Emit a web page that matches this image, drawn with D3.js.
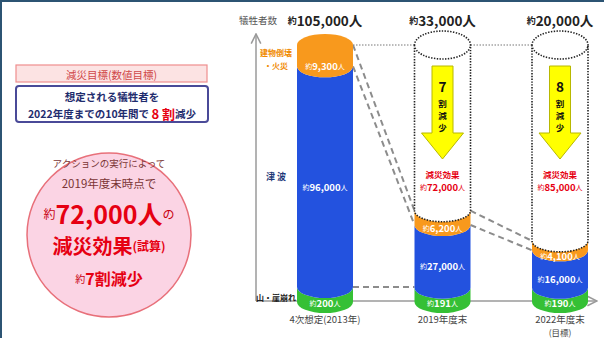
<!DOCTYPE html>
<html>
<head>
<meta charset="utf-8">
<script src="https://cdn.jsdelivr.net/npm/d3@7"></script>
<style>
  body { margin: 0; background: #fff; }
  svg { display: block; font-family: "Noto Sans CJK JP", "Noto Sans", sans-serif; }
</style>
</head>
<body>
<script>
// data
const categories = ["4次想定(2013年)", "2019年度末", "2022年度末"];
const subLabels = ["", "", "(目標)"];
const seriesNames = ["山・崖崩れ", "津 波", "建物倒壊・火災"];
const landslide = [200, 191, 190];
const tsunami = [96000, 27000, 16000];
const building = [9300, 6200, 4100];
const totals = [105000, 33000, 20000];
const reduction = [null, 72000, 85000];
const reductionRate = [null, 7, 8];

const colors = ["#35c035", "#2352df", "#f8991d"];

const W = 604, H = 338;
const svg = d3.select("body").append("svg").attr("width", W).attr("height", H);
const fmt = d3.format(",");

// frame
svg.append("rect").attr("x", 0).attr("y", 0).attr("width", W).attr("height", 2).attr("fill", "#2c5473");
svg.append("rect").attr("x", 0).attr("y", 0).attr("width", 2).attr("height", H).attr("fill", "#2c5473");

// ---------- left panel ----------
svg.append("rect").attr("x", 16).attr("y", 65).attr("width", 191).attr("height", 17)
  .attr("fill", "#fce3e3").attr("stroke", "#ee8e8e").attr("stroke-width", 1.2);
svg.append("text").attr("x", 111.5).attr("y", 74).attr("text-anchor", "middle")
  .attr("dominant-baseline", "central").attr("font-size", 10.5).attr("fill", "#d04848")
  .text("減災目標(数値目標)");

svg.append("rect").attr("x", 16).attr("y", 86).attr("width", 192).attr("height", 36).attr("rx", 3)
  .attr("fill", "#fff").attr("stroke", "#4a4a98").attr("stroke-width", 2);
svg.append("text").attr("x", 112).attr("y", 96).attr("text-anchor", "middle")
  .attr("dominant-baseline", "central").attr("font-size", 10.5).attr("font-weight", "bold")
  .attr("fill", "#1f2d6e").text("想定される犠牲者を");
const goal = svg.append("text").attr("x", 112).attr("y", 113).attr("text-anchor", "middle")
  .attr("dominant-baseline", "central").attr("font-weight", "bold").attr("fill", "#1f2d6e");
goal.append("tspan").attr("font-size", 10.5).text("2022年度までの10年間で ");
goal.append("tspan").attr("font-size", 13).attr("fill", "#e60012").text("8 割");
goal.append("tspan").attr("font-size", 10.5).text("減少");

svg.append("circle").attr("cx", 109).attr("cy", 235).attr("r", 82)
  .attr("fill", "#fbd4e4").attr("stroke", "#e8707a").attr("stroke-width", 1.5);
const circText = (y, parts) => {
  const t = svg.append("text").attr("x", 109).attr("y", y).attr("text-anchor", "middle")
    .attr("dominant-baseline", "central");
  parts.forEach(p => t.append("tspan").attr("font-size", p[1]).attr("font-weight", p[2] || "normal")
    .attr("fill", p[3] || "#e60012").text(p[0]));
};
circText(163, [["アクションの実行によって", 9.5, "normal", "#7a3434"]]);
circText(183, [["2019年度末時点で", 11.5, "normal", "#7a3434"]]);
circText(213, [["約", 12, "normal", "#c80010"], ["72,000人", 25, "bold"], ["の", 12, "normal", "#c80010"]]);
circText(245, [["減災効果", 20, "bold"], ["(試算)", 12, "bold"]]);
circText(278, [["約", 10, "normal", "#c80010"], ["7割減少", 16, "bold"]]);

// ---------- chart ----------
const x = d3.scalePoint().domain(categories).range([325, 560]);
const y = d3.scaleLinear().domain([0, 200, 105500]).range([302, 287, 45]);
const rx = 28, ry = 11;

const stacks = categories.map((c, i) => {
  const vals = [landslide[i], tsunami[i], building[i]];
  let lo = 0;
  return vals.map((v, k) => { const s = { cat: c, i, k, v, lo, hi: lo + v }; lo += v; return s; });
});
const topVal = stacks[0][2].hi;

// axes
const axisColor = "#9a9a9a";
const defs = svg.append("defs");
defs.append("marker").attr("id", "arr").attr("viewBox", "0 0 10 10").attr("refX", 9).attr("refY", 5)
  .attr("markerWidth", 8).attr("markerHeight", 8).attr("orient", "auto")
  .append("path").attr("d", "M1,1 L9,5 L1,9").attr("fill", "none").attr("stroke", axisColor).attr("stroke-width", 1.3);
svg.append("line").attr("x1", 256).attr("x2", 256).attr("y1", 301).attr("y2", 34)
  .attr("stroke", axisColor).attr("stroke-width", 1.5).attr("marker-end", "url(#arr)");
svg.append("line").attr("x1", 256).attr("x2", 597).attr("y1", 301).attr("y2", 301)
  .attr("stroke", axisColor).attr("stroke-width", 1.5).attr("marker-end", "url(#arr)");
svg.append("text").attr("x", 258).attr("y", 20).attr("text-anchor", "middle").attr("dominant-baseline", "central")
  .attr("font-size", 9.5).attr("fill", "#555").text("犠牲者数");

// connectors
const dotted = svg.append("g").attr("stroke", "#777").attr("stroke-width", 1).attr("stroke-dasharray", "1.5,1.5");
for (let i = 0; i < 2; i++) {
  dotted.append("line").attr("x1", x(categories[i]) + rx).attr("x2", x(categories[i + 1]) - rx)
    .attr("y1", y(topVal)).attr("y2", y(topVal));
}
const dashed = svg.append("g").attr("stroke", "#8c8c8c").attr("stroke-width", 2).attr("stroke-dasharray", "6,4");
for (let i = 0; i < 2; i++) {
  [1, 2].forEach(k => {
    dashed.append("line")
      .attr("x1", x(categories[i]) + rx).attr("y1", y(stacks[i][k].hi))
      .attr("x2", x(categories[i + 1]) - rx).attr("y2", y(stacks[i + 1][k].hi));
  });
}
dashed.append("line").attr("x1", x(categories[0]) + rx).attr("x2", x(categories[1]) - rx)
  .attr("y1", y(stacks[0][0].hi)).attr("y2", y(stacks[0][0].hi));

// cylinders
const segPath = (cx, yt, yb, top) =>
  `M${cx - rx},${yt} L${cx - rx},${yb} A${rx},${ry} 0 0 0 ${cx + rx},${yb} L${cx + rx},${yt} ` +
  (top ? `A${rx},${ry} 0 0 0 ${cx - rx},${yt}` : `A${rx},${ry} 0 0 1 ${cx - rx},${yt}`) + "Z";

const bars = svg.append("g");
stacks.forEach(st => st.forEach(s => {
  bars.append("path")
    .attr("d", segPath(x(s.cat), y(s.hi), y(s.lo), s.k === 2 && s.i === 0))
    .attr("fill", colors[s.k]);
}));

// ghost (dotted) cylinders
stacks.slice(1).forEach(st => {
  const cx = x(st[0].cat), yt = y(topVal), yb = y(st[2].hi);
  svg.append("path")
    .attr("d", `M${cx - rx},${yt} A${rx},${ry + 3} 0 1 0 ${cx + rx},${yt} A${rx},${ry + 3} 0 1 0 ${cx - rx},${yt} ` +
      `M${cx - rx},${yt} L${cx - rx},${yb} A${rx},${ry} 0 0 0 ${cx + rx},${yb} L${cx + rx},${yt}`)
    .attr("fill", "none").attr("stroke", "#222").attr("stroke-width", 1.6).attr("stroke-dasharray", "1.4,1.4");
});

// labels in bars
const amount = (g, cx, cy, v, color, big, small, weight) => {
  const t = g.append("text").attr("x", cx).attr("y", cy).attr("text-anchor", "middle")
    .attr("dominant-baseline", "central").attr("fill", color);
  t.append("tspan").attr("font-size", small).text("約");
  t.append("tspan").attr("font-size", big).attr("font-weight", weight).text(fmt(v));
  t.append("tspan").attr("font-size", small).text("人");
};
const lab = svg.append("g");
stacks.forEach(st => st.forEach(s => {
  const yt = y(s.hi), yb = y(s.lo);
  amount(lab, x(s.cat), (yt + yb) / 2 + ry - (s.k === 0 ? 3 : 1), s.v, "#fff", 9.5, 7, "bold");
}));

// series names to the left of first bar
const sx = 276;
svg.append("text").attr("x", sx).attr("y", y(topVal) + 7).attr("text-anchor", "middle").attr("dominant-baseline", "central")
  .attr("font-size", 8).attr("font-weight", "bold").attr("fill", "#f08a00").text(seriesNames[2].slice(0, 4));
svg.append("text").attr("x", sx).attr("y", y(topVal) + 20).attr("text-anchor", "middle").attr("dominant-baseline", "central")
  .attr("font-size", 8).attr("font-weight", "bold").attr("fill", "#f08a00").text(seriesNames[2].slice(4));
svg.append("text").attr("x", sx).attr("y", (y(stacks[0][1].lo) + y(stacks[0][1].hi)) / 2).attr("text-anchor", "middle")
  .attr("dominant-baseline", "central").attr("font-size", 9).attr("font-weight", "bold").attr("fill", "#1f3a7a").text(seriesNames[1]);
svg.append("text").attr("x", sx).attr("y", y(0) - 5).attr("text-anchor", "middle").attr("dominant-baseline", "central")
  .attr("font-size", 8).attr("font-weight", "bold").attr("fill", "#222").text(seriesNames[0]);

// totals on top
categories.forEach((c, i) => {
  const t = svg.append("text").attr("x", x(c)).attr("y", 20).attr("text-anchor", "middle")
    .attr("dominant-baseline", "central").attr("fill", "#222");
  t.append("tspan").attr("font-size", 9).attr("font-weight", "bold").text("約");
  t.append("tspan").attr("font-size", 13.5).attr("font-weight", "bold").text(fmt(totals[i]) + "人");
});

// category labels
categories.forEach((c, i) => {
  svg.append("text").attr("x", x(c)).attr("y", 318.5).attr("text-anchor", "middle").attr("dominant-baseline", "central")
    .attr("font-size", 9.5).attr("fill", "#444").text(c);
  if (subLabels[i]) svg.append("text").attr("x", x(c)).attr("y", 331.5).attr("text-anchor", "middle")
    .attr("dominant-baseline", "central").attr("font-size", 8.5).attr("fill", "#444").text(subLabels[i]);
});

// reduction arrows + effect
categories.forEach((c, i) => {
  if (reduction[i] == null) return;
  const cx = x(c), top = y(topVal) + 21, neck = top + 67, tip = neck + 26;
  svg.append("path")
    .attr("d", `M${cx - 10.5},${top} L${cx + 10.5},${top} L${cx + 10.5},${neck} L${cx + 21},${neck} L${cx},${tip} ` +
      `L${cx - 21},${neck} L${cx - 10.5},${neck} Z`)
    .attr("fill", "#ffff00").attr("stroke", "#b8b800").attr("stroke-width", 1);
  svg.append("text").attr("x", cx).attr("y", top + 20).attr("text-anchor", "middle").attr("dominant-baseline", "central")
    .attr("font-size", 13.5).attr("font-weight", "bold").attr("fill", "#111").text(reductionRate[i]);
  ["割", "減", "少"].forEach((ch, j) => {
    svg.append("text").attr("x", cx).attr("y", top + 37 + j * 12).attr("text-anchor", "middle")
      .attr("dominant-baseline", "central").attr("font-size", 8.5).attr("font-weight", "bold").attr("fill", "#111").text(ch);
  });
  svg.append("text").attr("x", cx).attr("y", tip + 15).attr("text-anchor", "middle").attr("dominant-baseline", "central")
    .attr("font-size", 8.5).attr("font-weight", "bold").attr("fill", "#e60012").text("減災効果");
  amount(svg, cx, tip + 28, reduction[i], "#e60012", 9.5, 7, "bold");
});
</script>
</body>
</html>
